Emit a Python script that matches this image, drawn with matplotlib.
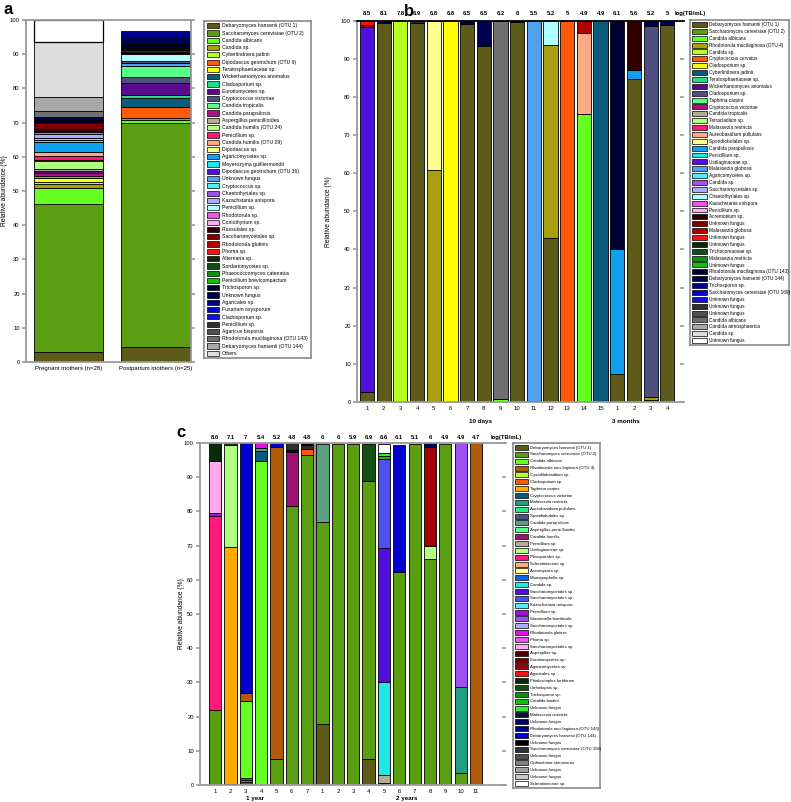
import matplotlib
matplotlib.use('Agg')
import matplotlib.pyplot as plt
import matplotlib.transforms as mtransforms
from matplotlib.patches import Rectangle

plt.rcParams['font.family'] = ['Liberation Sans', 'DejaVu Sans']

W, H = 791, 802

########################### panel a ####################################
a_names = ['Debaryomyces hansenii (OTU 1)', 'Saccharomyces cerevisiae (OTU 2)', 'Candida albicans',
           'Candida sp.', 'Cyberlindnera jadinii', 'Dipodascus geotrichum (OTU 9)', 'Teratosphaeriaceae sp.',
           'Wickerhamomyces anomalus', 'Cladosporium sp.', 'Eurotiomycetes sp.', 'Cryptococcus victoriae',
           'Candida tropicalis', 'Candida parapsilosis', 'Aspergillus penicillioides', 'Candida humilis (OTU 24)',
           'Penicillium sp.', 'Candida humilis (OTU 29)', 'Dipodascus sp.', 'Agaricomycetes sp.',
           'Meyerozyma guilliermondii', 'Dipodascus geotrichum (OTU 36)', 'Unknown fungus', 'Cryptococcus sp.',
           'Chaetothyriales sp.', 'Kazachstania unispora', 'Penicillium sp.', 'Rhodotorula sp.',
           'Coniothyrium sp.', 'Russulales sp.', 'Saccharomycetales sp.', 'Rhodotorula glutinis', 'Phoma sp.',
           'Alternaria sp.', 'Sordariomycetes sp.', 'Phaeococcomyces catenatus', 'Penicillium brevicompactum',
           'Trichosporon sp.', 'Unknown fungus', 'Agaricales sp.', 'Fusarium oxysporum', 'Cladosporium sp.',
           'Penicillium sp.', 'Agaricus bisporus', 'Rhodotorula mucilaginosa (OTU 143)',
           'Debaryomyces hansenii (OTU 144)', 'Others']
a_colors = ['#5e5a1a', '#5a9e12', '#66ff22', '#a8a010', '#b8ff22', '#ff5a0a', '#ffff00', '#0a5a7a',
            '#22dd88', '#5a0a8a', '#505080', '#55ff88', '#b01080', '#b0b090', '#b0ff80', '#ff1a7a',
            '#ffaa80', '#ffff90', '#10a0f0', '#20e8e8', '#5010e0', '#50a0f0', '#50f0f0', '#a050f0',
            '#aaaaff', '#b0ffff', '#f050f0', '#ffaaff', '#300000', '#800000', '#b00000', '#ff1010',
            '#0a2a0a', '#105010', '#109010', '#10c010', '#000030', '#000050', '#000090', '#0000d0',
            '#1010e0', '#303030', '#505050', '#707070', '#a8a8a8', '#dcdcdc']
a_groups = ['Pregnant mothers (n=28)', 'Postpartum mothers (n=25)']
# (species index, relative abundance %) from bottom to top
a_pregnant = [(0, 2.8), (1, 43.4), (2, 4.8), (3, 1.0), (4, 0.5), (6, 1.2), (8, 0.8), (12, 0.9),
              (9, 0.5), (13, 0.6), (14, 2.3), (17, 0.3), (15, 1.2), (16, 1.0), (18, 2.9), (19, 0.7),
              (22, 0.7), (24, 1.0), (26, 0.7), (23, 0.3), (28, 0.6), (29, 1.0), (30, 0.8), (36, 0.7),
              (37, 0.8), (43, 1.9), (44, 4.1), (45, 16.0)]
a_postpartum = [(0, 4.5), (1, 65.3), (2, 0.9), (3, 0.5), (5, 3.5), (7, 2.4), (8, 1.1), (9, 3.5),
                (10, 1.5), (11, 3.4), (21, 0.7), (10, 0.7), (25, 2.0), (31, 0.3), (29, 0.3), (33, 0.5),
                (32, 0.4), (35, 0.4), (36, 1.2), (37, 2.0), (38, 1.7)]
a_unassigned = [6.5, 0.0]

########################### panel b ####################################
b_names = ['Debaryomyces hansenii (OTU 1)', 'Saccharomyces cerevisiae (OTU 2)', 'Candida albicans',
           'Rhodotorula mucilaginosa (OTU 4)', 'Candida sp.', 'Cryptococcus curvatus', 'Cladosporium sp.',
           'Cyberlindnera jadinii', 'Teratosphaeriaceae sp.', 'Wickerhamomyces anomalus', 'Cladosporium sp.',
           'Taphrina carpini', 'Cryptococcus victoriae', 'Candida tropicalis', 'Tetracladium sp.',
           'Malassezia restricta', 'Aureobasidium pullulans', 'Sporidiobolales sp.', 'Candida parapsilosis',
           'Penicillium sp.', 'Ustilaginaceae sp.', 'Malassezia globosa', 'Agaricomycetes sp.', 'Candida sp.',
           'Saccharomycetales sp.', 'Chaetothyriales sp.', 'Kazachstania unispora', 'Penicillium sp.',
           'Acremonium sp.', 'Unknown fungus', 'Malassezia globosa', 'Unknown fungus', 'Unknown fungus',
           'Trichocomaceae sp.', 'Malassezia restricta', 'Unknown fungus', 'Rhodotorula mucilaginosa (OTU 143)',
           'Debaryomyces hansenii (OTU 144)', 'Trichosporon sp.', 'Saccharomyces cerevisiae (OTU 169)',
           'Unknown fungus', 'Unknown fungus', 'Unknown fungus', 'Candida albicans', 'Candida atmosphaerica',
           'Candida sp.', 'Unknown fungus']
b_colors = ['#5e5a1a', '#5a9e12', '#66ff22', '#a8a010', '#b8ff22', '#ff5a0a', '#ffff00', '#0a5a7a',
            '#22dd88', '#5a0a8a', '#505080', '#55ff88', '#b01080', '#b0b090', '#b0ff80', '#ff1a7a',
            '#ffaa80', '#ffff90', '#10a0f0', '#20e8e8', '#5010e0', '#50a0f0', '#50f0f0', '#a050f0',
            '#aaaaff', '#b0ffff', '#f050f0', '#ffaaff', '#300000', '#800000', '#b00000', '#ff1010',
            '#0a2a0a', '#105010', '#109010', '#10c010', '#000030', '#000050', '#000090', '#0000d0',
            '#1010e0', '#303030', '#505050', '#707070', '#a8a8a8', '#dcdcdc', '#ffffff']
b_ticks = [str(i) for i in range(1, 16)] + [str(i) for i in range(1, 5)]
b_loads = ['8.5', '8.1', '7.8', '6.9', '6.8', '6.8', '6.5', '6.5', '6.2', '6', '5.5', '5.2', '5', '4.9',
           '4.9', '6.1', '5.6', '5.2', '5']
b_groups = ['10 days', '3 months']
b_bars = [
    [(0, 2.5), (20, 95.8), (30, 0.5), (31, 1.2)],
    [(0, 99.3), (36, 0.7)],
    [(4, 100.0)],
    [(0, 99.5), (41, 0.5)],
    [(3, 60.9), (17, 39.1)],
    [(6, 100.0)],
    [(0, 99.2), (36, 0.8)],
    [(0, 93.4), (37, 6.6)],
    [(2, 0.9), (43, 99.1)],
    [(0, 99.7), (36, 0.3)],
    [(36, 0.3), (21, 99.7)],
    [(0, 43.1), (3, 50.5), (25, 6.4)],
    [(5, 100.0)],
    [(2, 75.5), (16, 21.4), (30, 3.1)],
    [(7, 100.0)],
    [(0, 7.4), (18, 32.7), (36, 59.9)],
    [(0, 84.8), (18, 2.2), (28, 13.0)],
    [(0, 0.5), (3, 0.7), (10, 97.3), (37, 1.5)],
    [(0, 98.8), (37, 1.2)],
]

########################### panel c ####################################
c_names = ['Debaryomyces hansenii (OTU 1)', 'Saccharomyces cerevisiae (OTU 2)', 'Candida albicans',
           'Rhodotorula mucilaginosa (OTU 4)', 'Cystofilobasidium sp.', 'Cladosporium sp.', 'Taphrina carpini',
           'Cryptococcus victoriae', 'Malassezia restricta', 'Aureobasidium pullulans', 'Sporidiobolales sp.',
           'Candida parapsilosis', 'Aspergillus penicillioides', 'Candida humilis', 'Penicillium sp.',
           'Ustilaginaceae sp.', 'Pleosporales sp.', 'Sclerotiniaceae sp.', 'Ascomycota sp.',
           'Monographella sp.', 'Candida sp.', 'Saccharomycetales sp.', 'Saccharomycetales sp.',
           'Kazachstania unispora', 'Penicillium sp.', 'Starmerella bombicola', 'Saccharomycetales sp.',
           'Rhodotorula glutinis', 'Phoma sp.', 'Saccharomycetales sp.', 'Aspergillus sp.',
           'Eurotiomycetes sp.', 'Agaricomycetes sp.', 'Agaricales sp.', 'Phialosimplex fortiforme',
           'Umbelopsis sp.', 'Trichosporon sp.', 'Candida boidinii', 'Unknown fungus', 'Malassezia restricta',
           'Unknown fungus', 'Rhodotorula mucilaginosa (OTU 143)', 'Debaryomyces hansenii (OTU 144)',
           'Unknown fungus', 'Saccharomyces cerevisiae (OTU 158)', 'Unknown fungus', 'Ophiostoma stenoceras',
           'Unknown fungus', 'Unknown fungus', 'Sclerotiniaceae sp.']
c_colors = ['#5e5a1a', '#5a9e12', '#66ff22', '#b05a0a', '#b8ff22', '#ff5a0a', '#ffaa00', '#0a5a7a',
            '#20a080', '#22ee88', '#505080', '#5aa080', '#55ff88', '#a01070', '#b0b090', '#b0ff80',
            '#ff1a7a', '#ffaa80', '#ffff90', '#1060f0', '#20e8e8', '#5010e0', '#5050f0', '#50f0f0',
            '#a010e0', '#a050f0', '#aaaaff', '#e010e0', '#f050f0', '#ffaaee', '#500000', '#800000',
            '#a00000', '#ff1010', '#0a2a0a', '#105010', '#109010', '#10c010', '#30f030', '#101040',
            '#000060', '#000090', '#0000d0', '#000000', '#303030', '#505050', '#808080', '#a0a0a0',
            '#c8c8c8', '#ffffff']
c_ticks = [str(i) for i in range(1, 8)] + [str(i) for i in range(1, 12)]
c_loads = ['8.6', '7.1', '7', '5.4', '5.2', '4.8', '4.8', '6', '6', '5.9', '6.9', '6.6', '6.1', '5.1',
           '6', '4.9', '4.9', '4.7']
c_groups = ['1 year', '2 years']
c_bars = [
    [(1, 21.8), (16, 56.8), (24, 0.9), (29, 15.2), (34, 5.3)],
    [(1, 0.3), (6, 69.3), (15, 29.9), (44, 0.5)],
    [(0, 0.8), (1, 0.6), (36, 0.6), (2, 22.7), (3, 2.1), (42, 73.2)],
    [(2, 94.8), (7, 2.8), (11, 0.9), (27, 1.5)],
    [(1, 7.7), (3, 91.1), (42, 1.2)],
    [(1, 81.6), (13, 15.7), (41, 0.7), (44, 2.0)],
    [(1, 96.4), (5, 1.9), (44, 1.0), (43, 0.7)],
    [(0, 17.7), (1, 59.3), (11, 22.7)],
    [(1, 99.8)],
    [(1, 99.8)],
    [(0, 7.6), (1, 81.3), (35, 10.8)],
    [(0, 0.6), (14, 2.3), (20, 27.1), (21, 39.2), (22, 26.2), (37, 0.8), (38, 0.8), (49, 2.7)],
    [(1, 62.3), (42, 37.1)],
    [(1, 99.7)],
    [(1, 66.0), (15, 3.9), (32, 28.9), (40, 1.2)],
    [(1, 99.6)],
    [(1, 3.6), (8, 25.0), (25, 71.4)],
    [(3, 100.0)],
]


def fig_rect(x0, y0, x1, y1):
    return [x0 / W, 1 - y1 / H, (x1 - x0) / W, (y1 - y0) / H]


def draw_stacks(ax, xs, bars, colors, width):
    for x, segs in zip(xs, bars):
        bottom = 0.0
        for k, h in segs:
            ax.bar(x, h, width=width, bottom=bottom, color=colors[k], edgecolor='black', linewidth=0.6)
            bottom += h


def style_axes(ax, ylab_x):
    ax.set_ylim(0, 100)
    ax.set_yticks(range(0, 101, 10))
    for sp in ax.spines.values():
        sp.set_color('#9a9a9a')
        sp.set_linewidth(1.3)
    ax.tick_params(axis='y', which='both', right=True, direction='out', length=3, width=1.2,
                   color='#9a9a9a', labelsize=4.2, pad=1.5)
    ax.tick_params(axis='x', length=0, labelsize=4.3, pad=3)
    ax.set_ylabel('Relative abundance (%)', fontsize=4.8)
    ax.yaxis.set_label_coords(ylab_x, 0.5)


def draw_legend(fig, rect, names, colors, fontsize, sw):
    lax = fig.add_axes(rect)
    n = len(names)
    lax.set_xlim(0, 1)
    lax.set_ylim(n + 0.15, -0.15)
    lax.set_xticks([])
    lax.set_yticks([])
    for sp in lax.spines.values():
        sp.set_color('#8a8a8a')
        sp.set_linewidth(1.2)
    for i, (name, col) in enumerate(zip(names, colors)):
        lax.add_patch(Rectangle((0.025, i + 0.14), sw, 0.72, facecolor=col, edgecolor='black', linewidth=0.5))
        lax.text(0.025 + sw + 0.025, i + 0.52, name, fontsize=fontsize, va='center', ha='left')
    return lax


def add_loads(ax, xs, loads, y, right_x):
    for x, v in zip(xs, loads):
        ax.text(x, y, v, ha='center', va='bottom', fontsize=4.2, fontweight='bold', clip_on=False)
    ax.text(right_x, y, 'log(TB/mL)', ha='center', va='bottom', fontsize=4.2, fontweight='bold', clip_on=False)


def add_groups(ax, positions, labels, y):
    trans = mtransforms.blended_transform_factory(ax.transData, ax.transAxes)
    for p, lab in zip(positions, labels):
        ax.text(p, y, lab, transform=trans, ha='center', va='center', fontsize=4.5, fontweight='bold')


fig = plt.figure(figsize=(W / 100, H / 100), dpi=100)

# a
ax = fig.add_axes(fig_rect(26, 20, 191, 362))
xa = [1, 2]
draw_stacks(ax, xa, [a_pregnant, a_postpartum], a_colors, 0.79)
tops = [sum(h for _, h in s) for s in [a_pregnant, a_postpartum]]
for x, t, u in zip(xa, tops, a_unassigned):
    if u > 0:
        ax.bar(x, u, width=0.79, bottom=t, color='white', edgecolor='black', linewidth=0.9)
ax.set_xlim(0.51, 2.41)
ax.set_xticks(xa)
ax.set_xticklabels(a_groups)
style_axes(ax, -0.11)
draw_legend(fig, fig_rect(204, 21, 311, 358), a_names, a_colors, 3.7, 0.115)
fig.text(3 / W, 1 - 10 / H, 'a', fontsize=12, fontweight='bold', va='center')

# b
ax = fig.add_axes(fig_rect(357, 20.7, 684, 402))
xb = list(range(1, len(b_bars) + 1))
draw_stacks(ax, xb, b_bars, b_colors, 0.85)
ax.set_xlim(0.4, 20.0)
ax.set_xticks(xb)
ax.set_xticklabels(b_ticks)
style_axes(ax, -0.075)
ax.spines['top'].set_color('black')
ax.spines['right'].set_visible(False)
ax.tick_params(axis='y', which='both', right=True, direction='out')
for t in ax.yaxis.get_ticklines()[1::2]:
    t.set_marker(0)
add_loads(ax, xb, b_loads, 101.2, 20.35)
add_groups(ax, [7.8, 16.5], b_groups, -0.05)
draw_legend(fig, fig_rect(690, 20, 789, 345), b_names, b_colors, 3.4, 0.145)
fig.text(404 / W, 1 - 12 / H, 'b', fontsize=12, fontweight='bold', va='center')

# c
ax = fig.add_axes(fig_rect(200, 443, 506, 785))
xc = list(range(1, len(c_bars) + 1))
draw_stacks(ax, xc, c_bars, c_colors, 0.8)
ax.axvline(7.5, color='#909090', linewidth=2, zorder=0.5)
ax.set_xlim(0.02, 19.95)
ax.set_xticks(xc)
ax.set_xticklabels(c_ticks)
style_axes(ax, -0.05)
ax.spines['right'].set_visible(False)
for t in ax.yaxis.get_ticklines()[1::2]:
    t.set_marker(0)
add_loads(ax, xc, c_loads, 100.9, 19.95)
add_groups(ax, [3.6, 13.5], c_groups, -0.04)
draw_legend(fig, fig_rect(513, 443, 600, 788), c_names, c_colors, 3.1, 0.15)
fig.text(176 / W, 1 - 433 / H, 'c', fontsize=12, fontweight='bold', va='center')

fig.savefig('out.png', dpi=100)
